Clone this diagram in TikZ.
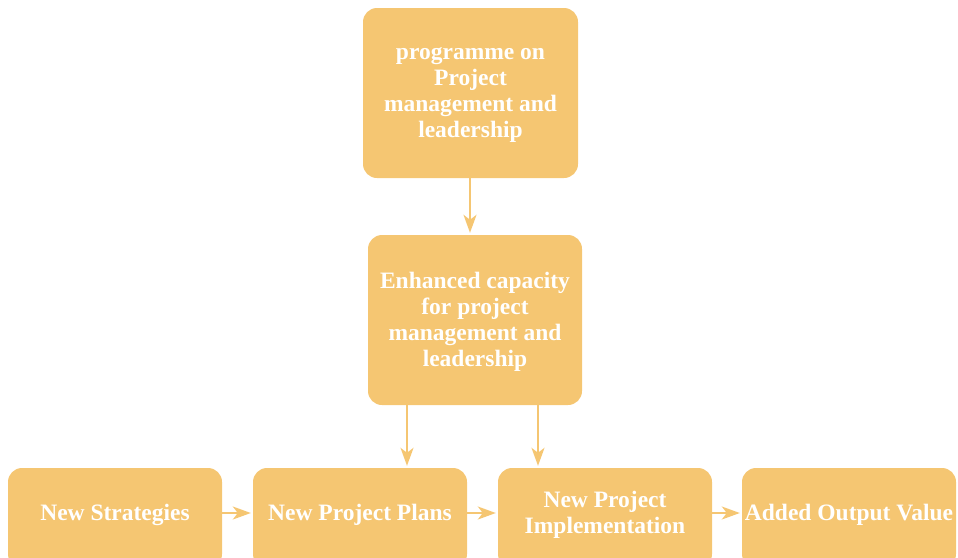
\documentclass[tikz,border=0pt]{standalone}
\usepackage{fontspec}
\setmainfont{Liberation Serif}
\usetikzlibrary{arrows.meta,positioning}
\definecolor{boxfill}{HTML}{F5C672}
\tikzset{
  box/.style={draw=none, fill=boxfill, rounded corners=14pt, text=white,
    font=\bfseries\fontsize{23.5}{26}\selectfont, align=center, inner sep=0pt},
  flow/.style={draw=boxfill, line width=2pt, shorten >=2pt,
    -{Stealth[length=18pt,width=13pt,inset=5pt]}},
}
\begin{document}
\begin{tikzpicture}[x=1pt,y=-1pt]
  \useasboundingbox (0,0) rectangle (958,557);
  \clip (0,0) rectangle (958,557);
  % upper column
  \node[box, minimum width=215pt, minimum height=170pt] (prog) at (470.5,93) {};
  \node[box] (progT) at (470.5,95)
    {programme on\\Project\\management and\\leadership};
  \node[box, minimum width=214pt, minimum height=170pt] (cap) at (475,320) {};
  \node[box] (capT) at (475,322)
    {Enhanced capacity\\for project\\management and\\leadership};
  % bottom row (runs past the lower edge)
  \node[box, minimum width=214pt, minimum height=100pt] (strat) at (115,518) {};
  \node[box, minimum width=214pt, minimum height=100pt] (plans) at (360,518) {};
  \node[box, minimum width=214pt, minimum height=100pt] (impl) at (605,518) {};
  \node[box, minimum width=214pt, minimum height=100pt] (value) at (849,518) {};
  \node[box] (stratT) at (115,514.5) {New Strategies};
  \node[box] (plansT) at (360,514.5) {New Project Plans};
  \node[box] (implT) at (605,514.5) {New Project\\Implementation};
  \node[box] (valueT) at (849,514.5) {Added Output Value};
  % connectors
  \coordinate (c0) at (470,178);
  \coordinate (c1) at (407,405);
  \coordinate (c2) at (538,405);
  \coordinate (rowy) at (0,513);
  \draw[flow] (c0) -- (c0 |- cap.north);
  \draw[flow] (c1) -- (c1 |- plans.north);
  \draw[flow] (c2) -- (c2 |- impl.north);
  \draw[flow] (strat.east |- rowy) -- (plans.west |- rowy);
  \draw[flow] (plans.east |- rowy) -- (impl.west |- rowy);
  \draw[flow] (impl.east |- rowy) -- (value.west |- rowy);
\end{tikzpicture}
\end{document}
